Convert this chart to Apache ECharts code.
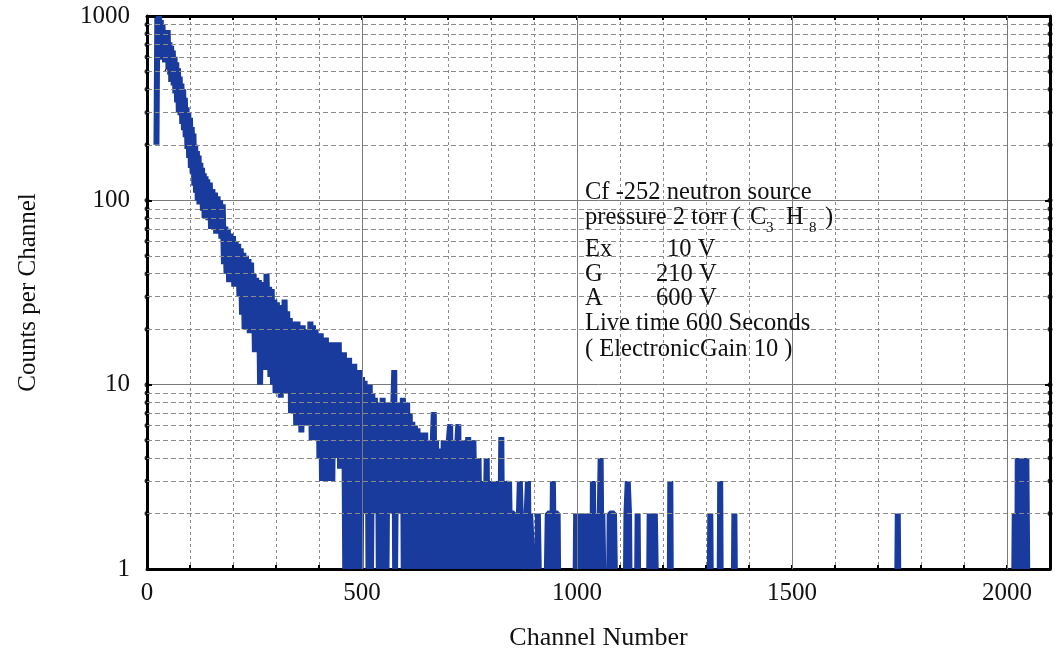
<!doctype html>
<html>
<head>
<meta charset="utf-8">
<title>Cf-252 spectrum</title>
<script src="https://cdn.jsdelivr.net/npm/echarts@6/dist/echarts.min.js"></script>
<style>
  html, body { margin: 0; padding: 0; background: #fff; }
  #chart { width: 1059px; height: 660px; }
</style>
</head>
<body>
<div id="chart"></div>
<script>
// tick values
var xLabels = [0, 500, 1000, 1500, 2000];
var xMajor = [500, 1000, 1500, 2000];
var yMinor = [2, 3, 4, 5, 6, 7, 8, 9, 20, 30, 40, 50, 60, 70, 80, 90, 200, 300, 400, 500, 600, 700, 800, 900];
var yDecades = [10, 100];

// [channel, counts], peak and steep slope
var peakRegion = [
  [22,200],[24,980],[26,620],[28,1000],[30,700],[32,950],[34,580],[36,900],[38,640],[40,820],
  [42,560],[44,760],[46,600],[48,840],[50,520],[52,720],[54,480],[56,690],[58,440],[60,650],
  [62,420],[64,600],[66,380],[68,560],[70,340],[72,520],[74,300],[76,470],[78,290],[80,430],
  [82,260],[84,400],[86,240],[88,360],[90,220],[92,320],[94,190],[96,300],[98,170],[100,280],
  [102,150],[104,250],[106,140],[108,230],[110,120],[112,200],[114,110],[116,185],[118,100],[120,175],
  [122,95],[124,160],[126,105],[128,150],[130,88],[132,140],[134,80],[136,135],[138,90],[140,130],
  [143,78],[146,125],[149,70],[152,115],[155,75],[158,110],[161,66],[164,105],[167,70],[170,100],
  [173,62],[176,95],[179,45],[182,72],[185,40],[188,70],[191,36],[194,66],[197,42],[200,64],
  [203,34],[206,60],[209,38],[212,58],[215,30]
];

// slower decay down to the first empty channels
var slopeRegion = [
  [218,55],[221,24],[224,52],[227,20],[230,50],[233,26],[236,48],[239,19],[242,46],[245,22],
  [248,40],[251,15],[254,38],[257,18],[260,37],[263,10],[266,36],[269,14],[272,35],[275,12],
  [278,40],[281,16],[284,34],[287,11],[290,33],[293,10],[296,29],[299,9],[302,28],[305,12],
  [308,27],[311,8.5],[314,26],[317,11],[320,29],[323,9],[326,25],[329,10],[332,23],[335,7],
  [338,22],[341,8],[344,21],[347,6],[350,22],[353,7],[356,20],[359,5.5],[362,21],[365,6.5],
  [368,19],[371,6],[374,20],[377,7],[380,22],[383,5],[386,21],[389,6],[392,20],[395,5],
  [398,19],[401,4],[404,19],[407,3],[410,18],[413,4],[416,18],[419,3],[422,17],[425,3.5],
  [428,17],[431,3],[434,17],[437,4],[440,16],[443,4.5],[446,17],[449,3.5],[452,15],[455,4]
];

// noisy tail, many channels at 1 or 2 counts
var tailRegion = [
  [458,15],[461,1],[464,14],[466,2],[468,2],[470,14],[473,1],[476,13],[479,2],[482,13],[485,1],
  [488,12],[491,2],[494,12],[497,1],[500,11],[503,3],[506,10.5],[508,2],[511,2],[513,10],[515,1],
  [518,10],[521,1],[524,9],[527,2],[530,8.5],[532,2],[535,2],[537,8],[539,1],[542,8],[545,1],
  [548,8.5],[551,2],[554,8],[557,1],[560,8],[562,2],[565,2],[568,7.5],[571,2],[573,8],[575,12],[577,1],
  [580,8],[583,2],[586,2],[589,8],[592,2],[595,8.5],[597,1],[599,7.5],[602,2],[605,8],[608,1],[611,7],[614,2],
  [617,6.3],[620,1],[623,6],[626,2],[629,5.8],[632,1],[635,5.5],[638,2],[641,5.2],[644,1],[647,5.5],[650,1],
  [653,5],[656,2],[659,5],[662,1],[665,5.2],[667,7.1],[669,1],[672,5],[675,2],[678,4.5],[681,1],
  [684,4],[687,1],[690,5],[693,2],[696,4],[699,1],[702,5],[705,6.1],[707,1],[710,5],[713,2],[716,4],
  [719,1],[722,5],[724,6.1],[726,1],[729,5],[732,2],[735,4],[738,1],[741,5],[744,2],[747,5.2],[750,1],[753,4],
  [756,1],[759,5],[762,2],[765,4],[768,1],[771,4],[774,1],[777,3],[779,2],[782,2],[784,3],[786,1],
  [790,4],[792,1],[795,3],[797,1],[800,2],[803,3],[806,1],[809,3],[812,1],[815,3],[818,2],[821,1],[824,5.2],[826,1],
  [829,3],[832,1],[835,3],[837,2],[840,2],[842,3],[845,1],[848,2],[853,2],[855,1],[858,2],[862,1],
  [865,2],[867,3],[869,2],[871,1],[873,2],[877,2],[879,1],[883,2],[886,3],[888,1],[891,2],[895,2],[897,1],
  [900,'-'],[908,1],[909,2],[911,1],[920,'-'],
  [930,1],[932,2],[940,2],[942,1],[944,3],[946,1],[948,2],[955,2],[956,1],[970,'-']
];

// isolated counts at high channels ('-' = empty channel, line breaks)
var sparseTail = [
  [997,1],[998,2],[1000,1],[1002,2],[1004,1],[1006,2],[1008,1],[1010,2],[1012,1],[1014,2],
  [1016,1],[1018,2],[1020,1],[1022,2],[1024,1],[1026,2],[1028,1],[1030,2],[1032,1],[1034,2],
  [1036,1],[1037,3],[1039,1],[1041,2],[1043,1],[1045,2],[1047,1],[1049,2],[1051,1],[1053,2],
  [1055,4],[1057,1],[1059,2],[1061,1],[1065,'-'],
  [1075,1],[1076,2],[1086,2],[1088,1],[1100,'-'],
  [1114,1],[1115,2],[1118,3],[1121,2],[1122,1],[1130,'-'],
  [1140,1],[1141,2],[1142,1],[1150,'-'],
  [1168,1],[1169,2],[1171,1],[1173,2],[1175,1],[1177,2],[1179,1],[1181,2],[1183,1],[1200,'-'],
  [1216,1],[1217,3],[1218,1],[1250,'-'],
  [1309,1],[1310,2],[1311,1],[1320,'-'],
  [1332,1],[1333,3],[1334,1],[1350,'-'],
  [1365,1],[1366,2],[1367,1],[1400,'-'],
  [1745,1],[1746,2],[1747,1],[1800,'-'],
  [2017,1],[2018,2],[2020,1],[2022,2],[2024,1],[2025,4],[2027,2],[2029,4],[2031,1],[2033,4],
  [2035,2],[2037,4],[2039,1],[2041,4],[2043,2],[2045,4],[2047,1]
];

var spectrum = peakRegion.concat(slopeRegion, tailRegion, sparseTail);

var serif = 'Liberation Serif';
var chart = echarts.init(document.getElementById('chart'), null, { renderer: 'canvas' });

var edgeDots = [];
yMinor.concat(yDecades).forEach(function (v) {
  edgeDots.push([0, v]);
  edgeDots.push([2100, v]);
});

var gridLines = yMinor.map(function (v) { return { yAxis: v }; }).concat(
  xMajor.map(function (v) {
    return { xAxis: v, lineStyle: { type: 'solid', color: '#7a7a7a', width: 1 } };
  })
);

function note(x, y, text, size) {
  return {
    type: 'text', left: x, top: y, z: 50,
    style: { text: text, fill: '#111', font: (size || 24.5) + 'px "' + serif + '"' }
  };
}

chart.setOption({
  animation: false,
  backgroundColor: '#fff',
  grid: { left: 147, right: 9, top: 16, bottom: 91 },
  xAxis: [{
    type: 'value', min: 0, max: 2100, interval: 100, position: 'bottom',
    axisLine: { show: true, onZero: false, lineStyle: { color: '#000', width: 3 } },
    axisTick: { show: true, inside: true, length: 4, lineStyle: { color: '#000', width: 2 } },
    axisLabel: {
      color: '#111', fontFamily: serif, fontSize: 25, margin: 12,
      formatter: function (v) { return xLabels.indexOf(v) >= 0 ? String(v) : ''; }
    },
    splitLine: { show: true, lineStyle: { color: '#8a8a8a', type: [3, 3], width: 1 } },
    name: 'Channel Number', nameLocation: 'middle', nameGap: 56,
    nameTextStyle: { color: '#111', fontFamily: serif, fontSize: 26 }
  }, {
    type: 'value', min: 0, max: 2100, interval: 100, position: 'top',
    axisLine: { show: true, onZero: false, lineStyle: { color: '#000', width: 3 } },
    axisTick: { show: true, inside: true, length: 4, lineStyle: { color: '#000', width: 2 } },
    axisLabel: { show: false },
    splitLine: { show: false }
  }],
  yAxis: [{
    type: 'log', logBase: 10, min: 1, max: 1000, position: 'left',
    axisLine: { show: true, onZero: false, lineStyle: { color: '#000', width: 3 } },
    axisTick: { show: true, inside: true, length: 5, lineStyle: { color: '#000', width: 2 } },
    axisLabel: {
      color: '#111', fontFamily: serif, fontSize: 25, margin: 17,
      formatter: function (v) { return String(Math.round(v)); }
    },
    splitLine: { show: true, lineStyle: { color: '#7a7a7a', type: 'solid', width: 1 } },
    name: 'Counts per Channel', nameLocation: 'middle', nameGap: 106, nameRotate: 90,
    nameTextStyle: { color: '#111', fontFamily: serif, fontSize: 25 }
  }, {
    type: 'log', logBase: 10, min: 1, max: 1000, position: 'right',
    axisLine: { show: true, onZero: false, lineStyle: { color: '#000', width: 3 } },
    axisTick: { show: true, inside: true, length: 5, lineStyle: { color: '#000', width: 2 } },
    axisLabel: { show: false },
    splitLine: { show: false }
  }],
  series: [{
    // minor dashed grid on the log axis and solid lines every 500 channels
    type: 'line', data: [], z: 1, silent: true,
    markLine: {
      silent: true, symbol: ['none', 'none'], animation: false,
      label: { show: false },
      lineStyle: { color: '#8a8a8a', type: [5, 3], width: 1 },
      data: gridLines
    }
  }, {
    type: 'scatter', data: edgeDots, symbol: 'circle', symbolSize: 5,
    itemStyle: { color: '#000' }, clip: false, silent: true, z: 4
  }, {
    type: 'line', data: spectrum, showSymbol: false, z: 3, clip: true,
    lineStyle: { color: '#1a3b9e', width: 6, join: 'bevel' }
  }],
  graphic: [
    note(585, 180, 'Cf -252 neutron source'),
    note(585, 205, 'pressure 2 torr ('),
    note(750, 205, 'C'),
    note(766, 221, '3', 15),
    note(786, 205, 'H'),
    note(809, 221, '8', 15),
    note(825, 205, ')'),
    note(585, 237, 'Ex'),
    note(667, 237, '10 V'),
    note(585, 262, 'G'),
    note(656, 262, '210 V'),
    note(585, 286, 'A'),
    note(656, 286, '600 V'),
    note(585, 311, 'Live time 600 Seconds'),
    note(585, 337, '( ElectronicGain 10 )'),
    {
      type: 'group', z: 50, children: [
        { type: 'line', shape: { x1: 169, y1: 82, x2: 169, y2: 65 }, style: { stroke: '#111', lineWidth: 1.3 } },
        { type: 'polyline', shape: { points: [[165, 71], [169, 64], [173, 71]] }, style: { stroke: '#111', lineWidth: 1.3, fill: null } }
      ]
    }
  ]
});
</script>
</body>
</html>
